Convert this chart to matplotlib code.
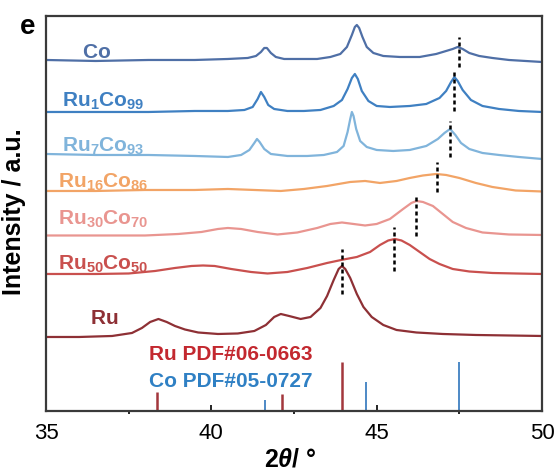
import matplotlib
matplotlib.use('Agg')
import matplotlib.pyplot as plt

plt.rcParams['font.family'] = ['Liberation Sans', 'DejaVu Sans']
plt.rcParams['mathtext.fontset'] = 'custom'
plt.rcParams['mathtext.rm'] = 'Liberation Sans'
plt.rcParams['mathtext.bf'] = 'Liberation Sans:bold'
plt.rcParams['mathtext.it'] = 'Liberation Sans:italic:bold'

# XRD patterns (2theta in degrees, intensity in a.u. incl. offset)
co_x = [35.0, 36.5, 38.1, 39.5, 40.5, 41.1, 41.35, 41.5, 41.6, 41.68, 41.8, 41.95, 42.2, 42.6, 43.2, 43.6,
        43.9, 44.1, 44.25, 44.34, 44.4, 44.47, 44.57, 44.7, 44.9, 45.2, 45.7, 46.3, 46.8, 47.1, 47.3, 47.45,
        47.6, 47.8, 48.1, 48.5, 49.0, 49.5, 50.0]
co_y = [351, 350, 351, 351, 352, 353, 355, 359, 363, 363, 358, 354, 352, 352, 352, 354,
        357, 364, 376, 384, 386, 383, 374, 364, 358, 355, 354, 354, 357, 360, 362, 364,
        362, 358, 355, 353, 351, 350, 349]

ru1_x = [35.0, 36.5, 38.1, 39.5, 40.5, 41.0, 41.25, 41.4, 41.5, 41.6, 41.72, 41.9, 42.3, 42.8, 43.3, 43.7,
         43.95, 44.12, 44.25, 44.34, 44.43, 44.55, 44.75, 45.0, 45.4, 46.0, 46.5, 46.9, 47.1, 47.25, 47.35,
         47.45, 47.6, 47.85, 48.2, 48.7, 49.3, 50.0]
ru1_y = [299, 299, 299, 300, 300, 301, 304, 312, 319, 314, 306, 302, 300, 300, 301, 305,
         311, 322, 333, 337, 332, 320, 310, 305, 304, 305, 307, 313, 320, 329, 334,
         330, 321, 311, 305, 302, 300, 299]

ru7_x = [35.0, 36.5, 38.1, 39.5, 40.5, 40.9, 41.15, 41.3, 41.38, 41.46, 41.6, 41.8, 42.3, 42.9, 43.4, 43.8,
         44.0, 44.12, 44.2, 44.25, 44.3, 44.38, 44.5, 44.7, 45.0, 45.5, 46.0, 46.5, 46.85, 47.05, 47.22,
         47.38, 47.55, 47.8, 48.2, 48.7, 49.3, 50.0]
ru7_y = [257, 256, 256, 255, 254, 256, 261, 268, 272, 269, 262, 257, 255, 255, 256, 259,
         265, 279, 292, 299, 295, 282, 270, 264, 261, 260, 261, 265, 272, 278, 282,
         276, 268, 262, 258, 256, 254, 252]

ru16_x = [35.0, 36.5, 38.0, 39.5, 40.5, 41.3, 42.1, 42.8, 43.5, 44.2, 44.65, 45.1, 45.6, 46.0, 46.4, 46.8,
          47.1, 47.5, 48.0, 48.5, 49.2, 50.0]
ru16_y = [220, 220, 221, 221, 222, 221, 220, 222, 225, 229, 230, 228, 230, 233, 235.5, 237,
          236, 233, 228, 224, 220.5, 219.5]

ru30_x = [35.0, 36.5, 38.0, 39.0, 39.7, 40.2, 40.5, 40.9, 41.4, 42.0, 42.6, 43.2, 43.6, 43.95, 44.3, 44.65,
          45.0, 45.4, 45.8, 46.05, 46.2, 46.4, 46.7, 47.0, 47.3, 47.7, 48.2, 49.0, 50.0]
ru30_y = [175.5, 175.5, 175.5, 177, 179, 182, 183, 182, 179, 176.5, 178.5, 183, 187, 188.5, 187, 185.5,
          187, 192, 202, 208, 210, 209, 205, 197, 189, 183, 178.5, 176.5, 176]

ru50_x = [35.0, 36.5, 37.5, 38.3, 38.9, 39.4, 39.75, 40.1, 40.6, 41.2, 41.7, 42.3, 42.9, 43.5, 44.0, 44.4,
          44.8, 45.1, 45.35, 45.55, 45.75, 46.0, 46.3, 46.6, 46.9, 47.3, 47.8, 48.5, 49.2, 50.0]
ru50_y = [137, 137, 137.5, 140, 143, 145, 145.5, 145, 142, 139, 137.5, 139, 143, 148, 151.5, 154,
          159, 166, 170.5, 172, 170.5, 166, 159, 152, 147, 142, 139.5, 138, 137.5, 137]

ru_x = [35.0, 36.0, 37.0, 37.6, 37.9, 38.15, 38.4, 38.65, 38.9, 39.2, 39.6, 40.2, 40.8, 41.3, 41.65, 41.9,
        42.1, 42.35, 42.7, 43.0, 43.3, 43.5, 43.7, 43.85, 43.95, 44.05, 44.2, 44.4, 44.6, 44.85, 45.2,
        45.6, 46.2, 47.0, 48.0, 49.0, 50.0]
ru_y = [74, 74, 75, 78, 83, 89, 92, 89, 85, 81.5, 78.5, 77, 77.5, 80, 86, 94,
        97, 95, 92, 94, 103, 115, 131, 142, 145, 142, 133, 117, 104, 94, 86,
        81, 78.5, 77, 76, 75.5, 75]

curves = [
    (co_x, co_y, '#4f6fa6', r'$\mathbf{Co}$', 36.08, 354),
    (ru1_x, ru1_y, '#3f80c2', r'$\mathbf{Ru_{1}Co_{99}}$', 35.48, 305),
    (ru7_x, ru7_y, '#80b4db', r'$\mathbf{Ru_{7}Co_{93}}$', 35.48, 260),
    (ru16_x, ru16_y, '#f2a466', r'$\mathbf{Ru_{16}Co_{86}}$', 35.36, 224),
    (ru30_x, ru30_y, '#e99590', r'$\mathbf{Ru_{30}Co_{70}}$', 35.36, 187),
    (ru50_x, ru50_y, '#c9504e', r'$\mathbf{Ru_{50}Co_{50}}$', 35.36, 142),
    (ru_x, ru_y, '#8e3035', r'$\mathbf{Ru}$', 36.33, 88),
]

# peak shift guides: position, bottom, top
shift_pos = [47.48, 47.35, 47.22, 46.82, 46.20, 45.51, 43.96]
shift_lo = [344, 300, 254, 219, 175, 140, 117]
shift_hi = [374, 342, 290, 249, 217, 184, 162]

# standard cards
ru_ref_pos = [38.35, 42.13, 43.95]
ru_ref_int = [19, 17, 49]
co_ref_pos = [41.63, 44.69, 47.49]
co_ref_int = [11, 29, 49]

fig = plt.figure(figsize=(5.55, 4.77), dpi=100)
ax = fig.add_axes([0.0829, 0.1363, 0.8937, 0.8281])

for x, y, c, lab, lx, ly in curves:
    ax.plot(x, y, color=c, lw=1.6)
    ax.text(lx, ly, lab, color=c, fontsize=15, ha='left', va='baseline')

for p, lo, hi in zip(shift_pos, shift_lo, shift_hi):
    ax.plot([p, p], [lo, hi], color='black', lw=1.8, linestyle=(0, (1.6, 1.2)))

ax.vlines(ru_ref_pos, 0, ru_ref_int, color='#a3373c', lw=1.8)
ax.vlines(co_ref_pos, 0, co_ref_int, color='#3f80c2', lw=1.3)
ax.text(38.1, 52, 'Ru PDF#06-0663', color='#c3282f', fontsize=15, fontweight='bold',
        ha='left', va='baseline')
ax.text(38.1, 25, 'Co PDF#05-0727', color='#2f80c4', fontsize=15, fontweight='bold',
        ha='left', va='baseline')

ax.set_xlim(35, 50)
ax.set_ylim(0, 395)
ax.set_xticks([35, 40, 45, 50])
ax.set_xticks([37.5, 42.5, 47.5], minor=True)
ax.set_yticks([])
ax.tick_params(axis='x', which='major', direction='in', length=4, width=1.2, labelsize=16, pad=8)
ax.tick_params(axis='x', which='minor', direction='out', length=2, width=1.2)
for s in ax.spines.values():
    s.set_linewidth(1.6)
    s.set_color('#3a3a3a')

fig.text(290 / 555, 1 - 460 / 477, r'$\mathbf{2}\theta$/ °', fontsize=18, fontweight='bold',
         ha='center', va='center')
fig.text(14 / 555, 1 - 212 / 477, 'Intensity / a.u.', fontsize=18, fontweight='bold',
         rotation=90, ha='center', va='center')
fig.text(28 / 555, 1 - 27 / 477, 'e', fontsize=20, fontweight='bold', ha='center', va='center')

fig.savefig('out.png', dpi=100)
